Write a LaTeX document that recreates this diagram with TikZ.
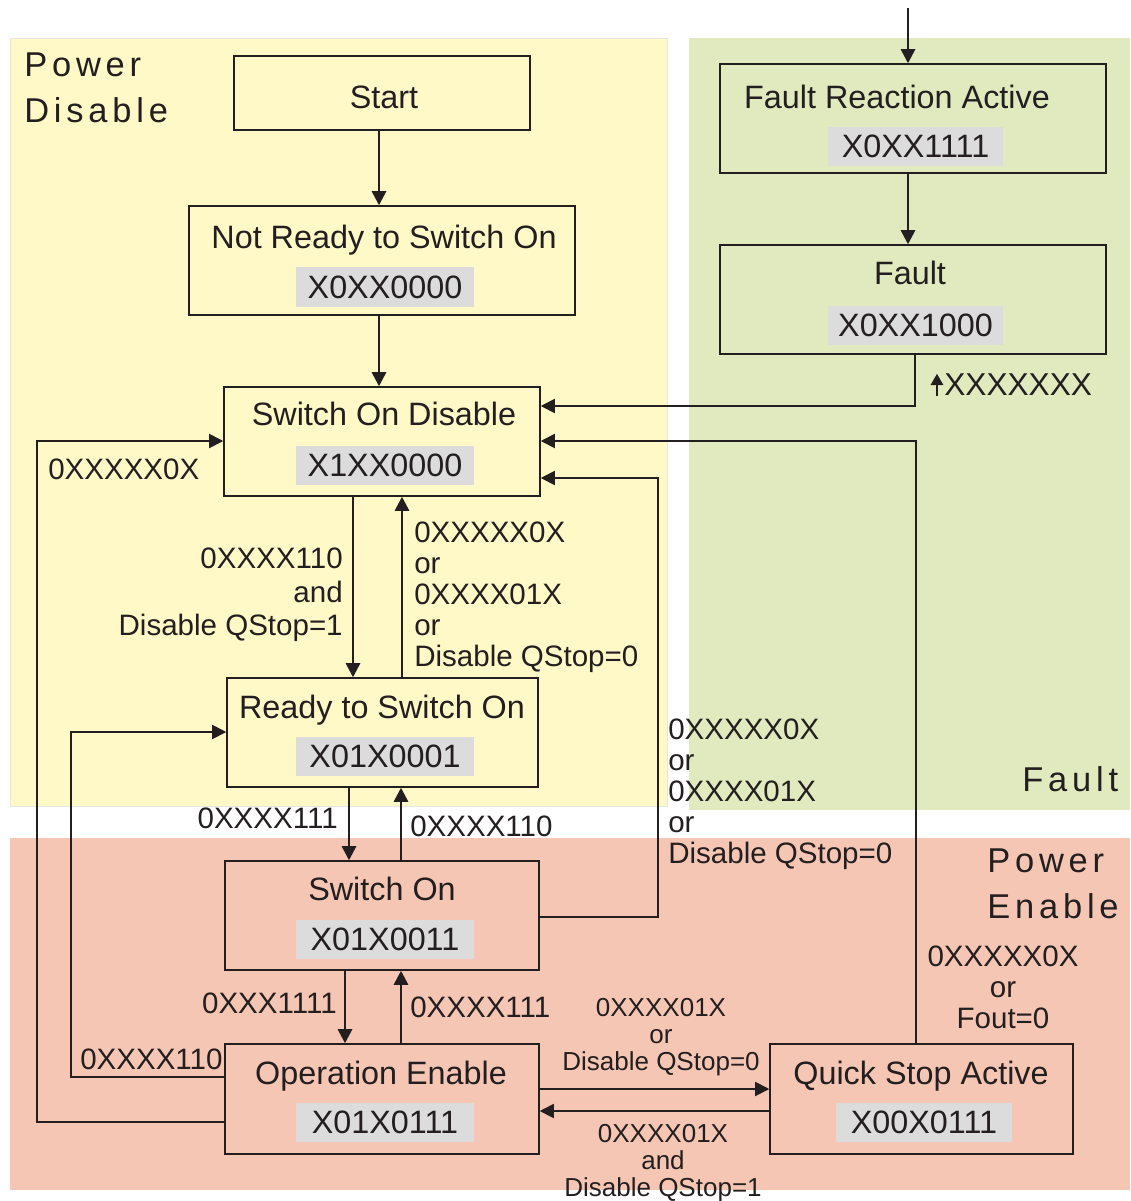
\documentclass[tikz,border=0pt]{standalone}
\usepackage{fontspec}
\setmainfont{Liberation Sans}
\usetikzlibrary{arrows.meta}
\definecolor{pdis}{HTML}{FEF9C7}
\definecolor{pflt}{HTML}{E1EABE}
\definecolor{pen}{HTML}{F6C6B4}
\definecolor{codegray}{HTML}{DCDCDC}
\definecolor{ink}{HTML}{231F20}

\begin{document}
\begin{tikzpicture}
  [x=0.025cm,y=-0.025cm,
   every node/.style={inner sep=0pt,text=ink},
   state/.style={draw=ink,line width=1pt,minimum width=7.85cm,minimum height=2.725cm},
   title/.style={anchor=base,font=\fontsize{23}{26}\selectfont},
   code/.style={fill=codegray,minimum width=4.45cm,minimum height=0.975cm,font=\fontsize{23}{26}\selectfont},
   lbl/.style={font=\fontsize{21}{22}\selectfont,align=left},
   slbl/.style={font=\fontsize{18.5}{19.5}\selectfont,align=center},
   area/.style={font=\fontsize{24.5}{32.5}\selectfont\addfontfeature{LetterSpace=14},align=left},
   arr/.style={draw=ink,line width=1.2pt,-{Triangle[length=10pt,width=10pt]}},
   varr/.style={arr,line width=1.8pt}]
  \useasboundingbox (0,0) rectangle (1130,1201);

  % regions
  \fill[pdis,draw=black!10] (10,38) rectangle (667,806);
  \fill[pflt] (689,38) rectangle (1130,810);
  \fill[pen] (10,838) rectangle (1130,1190);
  \node[area,anchor=west] (pdis) at (24,87.5) {Power\\Disable};
  \node[area,anchor=west] (flt) at (1022,779) {Fault};
  \node[area,anchor=west] (pen) at (987,884) {Power\\Enable};

  % states
  \node[state,minimum width=7.4cm,minimum height=1.85cm] (start) at (382,93) {};
  \node[title] (startt) at (384,108.6) {Start};

  \node[state,minimum width=9.65cm] (nr) at (382,260.5) {};
  \node[title] (nrt) at (384,248.6) {Not Ready to Switch On};
  \node[code] (nrc) at (385,287) {X0XX0000};

  \node[state,minimum width=7.9cm] (sod) at (382,441.5) {};
  \node[title] (sodt) at (384,425.6) {Switch On Disable};
  \node[code] (sodc) at (385,465.5) {X1XX0000};

  \node[state,minimum width=7.775cm] (rtso) at (382.5,732.5) {};
  \node[title] (rtsot) at (382,718.6) {Ready to Switch On};
  \node[code] (rtsoc) at (385,756.5) {X01X0001};

  \node[state] (swon) at (382,915.5) {};
  \node[title] (swont) at (382,900.6) {Switch On};
  \node[code] (swonc) at (385,939.5) {X01X0011};

  \node[state,minimum height=2.75cm] (oe) at (382,1099) {};
  \node[title] (oet) at (381,1084.6) {Operation Enable};
  \node[code] (oec) at (385,1122.5) {X01X0111};

  \node[state,minimum width=7.575cm,minimum height=2.75cm] (qsa) at (921.5,1099) {};
  \node[title] (qsat) at (921,1084.6) {Quick Stop Active};
  \node[code,minimum width=4.4cm] (qsac) at (924,1122.5) {X00X0111};

  \node[state,minimum width=9.65cm] (fra) at (913,118.5) {};
  \node[title] (frat) at (897,108.6) {Fault Reaction Active};
  \node[code,minimum width=4.375cm] (frac) at (915.5,146.5) {X0XX1111};

  \node[state,minimum width=9.65cm] (fault) at (913,299.5) {};
  \node[title] (faultt) at (910,284.6) {Fault};
  \node[code,minimum width=4.375cm] (faultc) at (915.5,325.5) {X0XX1000};

  % transitions
  \coordinate (src) at (908,8);
  \draw[varr] (src) -- (fra.north -| src);
  \foreach \from/\to/\x in {start/nr/379, nr/sod/379, sod/rtso/353, rtso/swon/349, swon/oe/345, fra/fault/908}
    \draw[varr] (\from.south -| \x,0) -- (\to.north -| \x,0);
  \foreach \from/\to/\x in {rtso/sod/402, swon/rtso/401, oe/swon/401}
    \draw[varr] (\from.north -| \x,0) -- (\to.south -| \x,0);

  \draw[arr] (fault.south -| 915,0) |- (sod.east |- 0,406);
  \draw[arr] (qsa.north -| 916,0) |- (sod.east |- 0,441);
  \draw[arr] (swon.east |- 0,917) -- ++(118,0) |- (sod.east |- 0,478);
  \draw[arr] (oe.west |- 0,1122) -- ++(-187,0) |- (sod.west |- 0,441);
  \draw[arr] (oe.west |- 0,1077) -- ++(-153,0) |- (rtso.west |- 0,732);
  \draw[arr] (oe.east |- 0,1089) -- (qsa.west |- 0,1089);
  \draw[arr] (qsa.west |- 0,1111) -- (oe.east |- 0,1111);

  % labels
  \node[lbl,anchor=west,font=\fontsize{22.5}{24}\selectfont] (l0) at (944,385) {XXXXXXX};
  \draw[draw=ink,line width=0.8pt,-{Triangle[length=8pt,width=9pt]}] ([xshift=-5pt]l0.south west) -- ([xshift=-5pt]l0.north west);
  \node[lbl,anchor=west] (l1) at (48,469) {0XXXXX0X};
  \node[lbl,anchor=north east,align=right,font=\fontsize{21}{24}\selectfont] (l2) at (343,547.5) {0XXXX110\\and\\Disable QStop=1};
  \node[lbl,anchor=north west] (l3) at (414,521.5) {0XXXXX0X\\or\\0XXXX01X\\or\\Disable QStop=0};
  \node[lbl,anchor=north west] (l4) at (668,718.5) {0XXXXX0X\\or\\0XXXX01X\\or\\Disable QStop=0};
  \node[lbl,anchor=north,align=center] (l5) at (1003,945.5) {0XXXXX0X\\or\\Fout=0};
  \node[lbl,anchor=east] (l6) at (338,818) {0XXXX111};
  \node[lbl,anchor=west] (l7) at (410,826) {0XXXX110};
  \node[lbl,anchor=east] (l8) at (337,1003) {0XXX1111};
  \node[lbl,anchor=west] (l9) at (410,1007) {0XXXX111};
  \node[lbl,anchor=west] (l10) at (80,1059) {0XXXX110};
  \node[slbl,anchor=north] (l11) at (661,997.6) {0XXXX01X\\or\\Disable QStop=0};
  \node[slbl,anchor=north] (l12) at (663,1123.6) {0XXXX01X\\and\\Disable QStop=1};
\end{tikzpicture}
\end{document}
